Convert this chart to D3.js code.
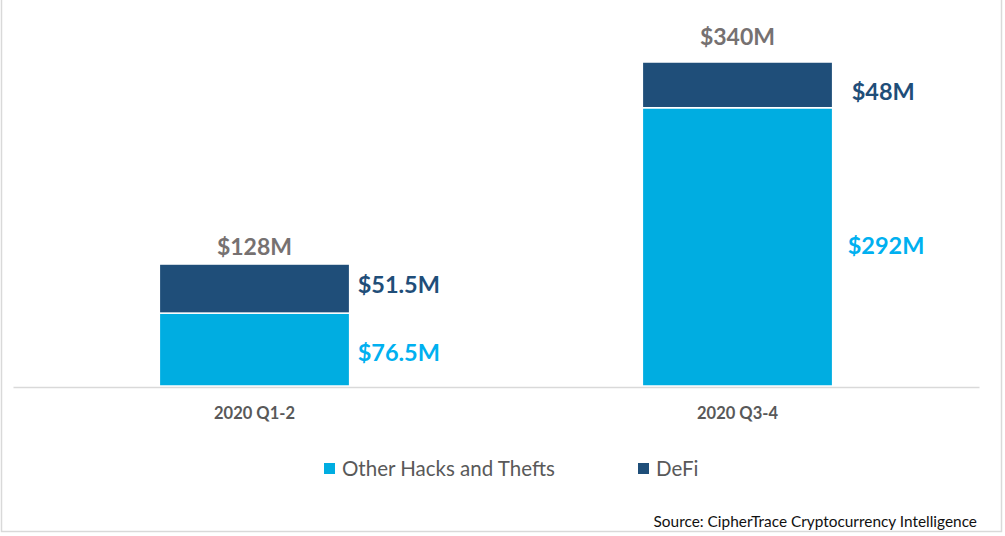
<!DOCTYPE html>
<html><head><meta charset="utf-8">
<script src="https://cdn.jsdelivr.net/npm/d3@7"></script>
<style>body{margin:0;background:#fff}svg{display:block}</style>
</head><body>
<script>
const categories = ["2020 Q1-2", "2020 Q3-4"];
const otherHacks = [76.5, 292];
const defi = [51.5, 48];
const totals = [128, 340];
const seriesNames = ["Other Hacks and Thefts", "DeFi"];
const otherLabels = ["$76.5M", "$292M"];
const defiLabels = ["$51.5M", "$48M"];
const totalLabels = ["$128M", "$340M"];

const W = 1005, H = 536;
const colors = {"Other Hacks and Thefts": "#00ADE1", "DeFi": "#1F4E79"};
const font = "Lato, 'Open Sans', sans-serif";

const svg = d3.select("body").append("svg").attr("width", W).attr("height", H);
svg.append("rect").attr("x", 1.5).attr("y", -2).attr("width", 1000).attr("height", 533.5)
  .attr("fill", "#fff").attr("stroke", "#d9d9d9").attr("stroke-width", 1.5);

const data = categories.map((c, i) => ({cat: c, "Other Hacks and Thefts": otherHacks[i], "DeFi": defi[i]}));
const stack = d3.stack().keys(seriesNames)(data);

const x = d3.scaleBand().domain(categories).range([13, 979]).paddingInner(0.606).paddingOuter(0.303);
const y = d3.scaleLinear().domain([0, 340]).range([386, 62]);

const g = svg.append("g");
stack.forEach(layer => {
  g.selectAll(null).data(layer).enter().append("rect")
    .attr("x", d => x(d.data.cat))
    .attr("width", x.bandwidth())
    .attr("y", d => y(d[1]))
    .attr("height", d => y(d[0]) - y(d[1]))
    .attr("fill", colors[layer.key])
    .attr("stroke", "#fff").attr("stroke-width", 1.5);
});

// axis
const xAxis = svg.append("g").attr("transform", "translate(0,387)").call(d3.axisBottom(x).tickSize(0).tickPadding(20));
xAxis.select(".domain").attr("stroke", "#d9d9d9").attr("stroke-width", 1.5);
xAxis.selectAll("text").attr("font-family", font).attr("font-weight", "bold").attr("font-size", 16.5).attr("fill", "#595959");

// segment labels
const lab = (arr, layerIdx, color, dx, dy) => {
  svg.selectAll(null).data(stack[layerIdx]).enter().append("text")
    .attr("x", (d, i) => x(d.data.cat) + x.bandwidth() + dx[i])
    .attr("y", (d, i) => (y(d[0]) + y(d[1])) / 2 + dy[i])
    .attr("dominant-baseline", "central")
    .attr("font-family", font).attr("font-weight", "bold").attr("font-size", 23.5)
    .attr("fill", color).text((d, i) => arr[i]);
};
lab(otherLabels, 0, "#00B0F0", [8, 15], [2, -2]);
lab(defiLabels, 1, "#1F4E79", [8, 19], [-5, 6]);

const totalDy = [-18, -26];
svg.selectAll(null).data(categories).enter().append("text")
  .attr("x", d => x(d) + x.bandwidth() / 2)
  .attr("y", (d, i) => y(totals[i]) + totalDy[i])
  .attr("text-anchor", "middle").attr("dominant-baseline", "central")
  .attr("font-family", font).attr("font-weight", "bold").attr("font-size", 23)
  .attr("fill", "#767171").text((d, i) => totalLabels[i]);

// legend
const legX = [324, 638];
seriesNames.forEach((s, i) => {
  svg.append("rect").attr("x", legX[i]).attr("y", 463).attr("width", 11).attr("height", 11).attr("fill", colors[s]);
  svg.append("text").attr("x", legX[i] + 18).attr("y", 468).attr("dominant-baseline", "central")
    .attr("font-family", font).attr("font-size", 20.5).attr("fill", "#595959").text(s);
});

svg.append("text").attr("x", 977).attr("y", 521).attr("text-anchor", "end").attr("dominant-baseline", "central")
  .attr("font-family", font).attr("font-size", 15.4).attr("fill", "#111")
  .text("Source: CipherTrace Cryptocurrency Intelligence");
</script>
</body></html>
